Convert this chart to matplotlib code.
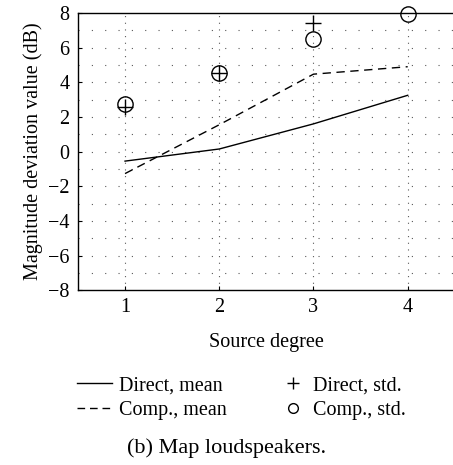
import numpy as np
import matplotlib.pyplot as plt
from matplotlib.lines import Line2D

degrees = [1, 2, 3, 4]
direct_mean = [-0.55, 0.15, 1.6, 3.25]
comp_mean = [-1.27, 1.55, 4.47, 4.9]
direct_std = [2.6, 4.55, 7.4, np.nan]
comp_std = [2.74, 4.55, 6.48, 7.94]

plt.rcParams['font.family'] = ['Liberation Serif', 'DejaVu Serif']
plt.rcParams['font.size'] = 14.5

fig = plt.figure(figsize=(4.53, 4.65), dpi=100)
ax = fig.add_axes([0.172, 0.376, 0.832, 0.596])

# dotted grid, rows at every dB, columns at each degree
for yv in range(-7, 8):
    ax.axhline(yv, color='0.35', lw=0.8, ls=(0, (1, 11)), zorder=0)
for xv in degrees:
    ax.axvline(xv, color='0.35', lw=0.8, ls=(0, (1, 5)), zorder=0)

ax.plot(degrees, direct_mean, color='black', lw=1.0, ls='-')
ax.plot(degrees, comp_mean, color='black', lw=1.0, ls=(0, (6, 4)))
ax.plot(degrees, direct_std, ls='none', marker='+', ms=11, mew=1.0,
        color='black', clip_on=False)
ax.plot(degrees, comp_std, ls='none', marker='o', ms=11, mew=1.0,
        mfc='none', mec='black', clip_on=False)

ax.set_xlim(0.5, 4.5)
ax.set_ylim(-8, 8)
ax.set_xticks(degrees)
ax.set_yticks(range(-8, 9, 2))
ax.tick_params(direction='in', length=3, width=0.8, pad=6)
ax.spines['right'].set_visible(False)
for s in ['top', 'bottom', 'left']:
    ax.spines[s].set_linewidth(1.0)

ax.set_xlabel('Source degree', labelpad=11)
ax.set_ylabel('Magnitude deviation value (dB)', labelpad=4)

mean_handles = [
    Line2D([], [], color='black', lw=1.0, ls='-'),
    Line2D([], [], color='black', lw=1.0, ls=(0, (5.5, 3.5))),
]
std_handles = [
    Line2D([], [], color='black', ls='none', marker='+', ms=8, mew=1.0),
    Line2D([], [], color='black', ls='none', marker='o', ms=7, mew=1.0, mfc='none'),
]
fig.legend(mean_handles, ['Direct, mean', 'Comp., mean'], frameon=False,
           loc='center left', bbox_to_anchor=(0.17, 0.144), borderpad=0,
           borderaxespad=0, handlelength=1.75, handletextpad=0.35,
           labelspacing=0.25)
fig.legend(std_handles, ['Direct, std.', 'Comp., std.'], frameon=False,
           loc='center left', bbox_to_anchor=(0.625, 0.144), borderpad=0,
           borderaxespad=0, handlelength=1.0, handletextpad=0.5,
           labelspacing=0.25)

fig.text(0.5, 0.036, '(b) Map loudspeakers.', ha='center', va='center',
         fontsize=16)

fig.savefig('out.png', dpi=100)
